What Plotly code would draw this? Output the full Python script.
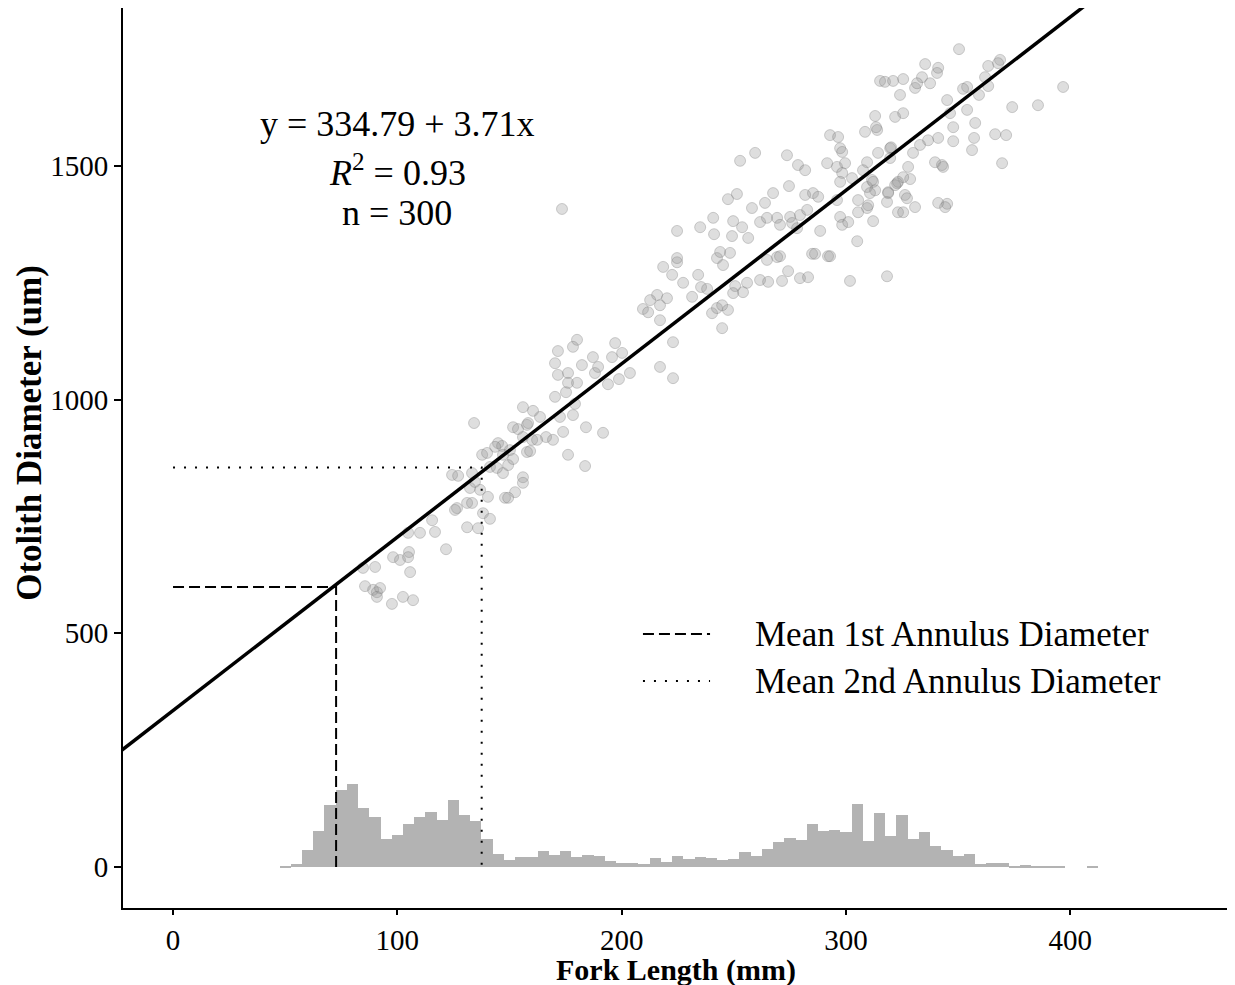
import plotly.graph_objects as go

# ---------------- data ----------------
fork_length = [
 134.2,151.6,153.8,157.8,144.9,146.7,143.6,137.8,140.0,150.2,157.8,141.3,144.4,147.1,149.4,151.6,
 124.4,127.1,156.0,156.0,152.5,148.0,149.4,132.4,136.9,140.4,126.6,131.1,133.3,125.7,138.2,141.3,
 115.5,116.8,110.1,104.8,131.1,136.0,121.7,98.1,101.2,105.2,104.8,90.1,84.7,105.7,85.6,89.2,
 90.9,92.3,90.9,97.6,102.5,107.0,133.3,134.6,147.1,
 180.1,178.3,197.1,171.6,170.3,182.3,187.2,195.7,200.2,171.6,176.1,188.1,189.5,203.7,198.8,193.9,
 175.2,176.1,180.1,170.3,179.2,178.3,172.5,156.0,160.5,163.6,158.3,166.3,169.4,173.9,184.1,191.7,
 156.0,160.1,162.3,176.1,183.7,159.2,
 218.5,224.7,222.5,227.4,234.1,231.4,215.8,212.7,220.2,217.1,209.5,211.8,217.1,222.9,217.1,222.9,
 292.9,296.5,297.4,298.3,308.5,313.9,252.8,259.5,273.7,278.6,281.8,291.6,296.0,299.6,298.3,302.7,
 309.4,314.3,319.7,307.6,297.4,311.6,309.4,313.0,318.8,322.8,323.2,247.4,251.4,267.5,274.6,281.8,
 285.3,287.6,296.0,305.4,309.4,309.9,305.4,297.4,298.3,301.0,312.1,318.3,305.0,240.8,235.0,224.7,
 249.7,253.7,241.2,249.2,256.4,258.1,263.9,261.7,264.8,275.1,276.0,279.5,282.7,278.2,288.5,269.3,
 270.6,224.7,235.4,238.1,242.5,243.9,248.3,245.2,250.6,254.1,255.9,249.7,261.7,265.3,271.5,274.2,
 279.5,283.1,284.9,286.2,292.0,264.8,269.3,270.6,301.8,318.3,240.3,242.5,244.8,247.4,244.8,173.4,
 350.4,368.7,363.4,367.8,335.3,341.1,340.6,333.9,330.8,331.7,337.5,315.2,317.4,321.0,325.5,324.1,
 354.0,352.2,363.4,359.3,362.0,396.8,385.6,374.1,345.1,354.0,346.4,313.0,313.4,321.9,325.5,357.6,
 347.8,347.8,357.1,356.2,366.5,371.4,369.6,341.1,336.6,333.0,329.9,320.1,319.7,339.7,342.8,343.3,
 327.7,328.6,325.5,323.2,321.9,312.1,310.7,326.3,327.2,330.8,325.5,341.1,345.1,344.2,318.8,292.9,
]
otolith_diameter = [
 950,941,937,946,907,901,899,882,886,892,888,856,854,843,860,873,
 839,837,834,822,802,790,790,811,807,792,768,779,779,764,757,745,
 742,717,715,715,727,725,680,663,657,674,663,642,640,631,601,593,
 588,597,578,563,578,571,843,824,882,
 1128,1113,1121,1104,1078,1074,1091,1091,1100,1053,1057,1057,1070,1057,1044,1033,
 1016,1036,1036,1006,991,967,963,984,976,963,950,920,914,931,941,929,
 920,914,914,882,858,890,
 1284,1294,1267,1250,1267,1220,1224,1213,1217,1202,1194,1187,1170,1123,1070,1046,
 1566,1562,1538,1530,1573,1577,1511,1528,1523,1502,1491,1506,1498,1506,1485,1474,
 1508,1528,1538,1491,1466,1470,1455,1448,1444,1463,1401,1429,1440,1442,1457,1438,
 1442,1434,1427,1427,1410,1416,1401,1391,1374,1380,1382,1423,1339,1389,1369,1361,
 1382,1369,1354,1350,1346,1410,1421,1380,1389,1391,1378,1395,1406,1367,1361,1389,
 1374,1303,1241,1237,1303,1316,1314,1288,1243,1230,1250,1228,1256,1252,1254,1275,
 1260,1262,1312,1312,1307,1299,1305,1307,1254,1264,1185,1196,1202,1192,1153,1408,
 1750,1727,1714,1720,1718,1710,1699,1690,1667,1677,1677,1682,1680,1682,1686,1652,
 1669,1665,1671,1652,1690,1669,1630,1626,1641,1620,1613,1607,1583,1605,1613,1592,
 1583,1553,1560,1534,1568,1566,1506,1560,1555,1545,1528,1540,1517,1508,1502,1498,
 1498,1472,1476,1466,1459,1466,1442,1438,1431,1412,1401,1421,1419,1412,1442,1307,
]

hist_bin_centers = [50, 55, 60, 65, 70, 75, 80, 85, 90, 95, 100, 105, 110, 115, 120, 125,
                    130, 135, 140, 145, 150, 155, 160, 165, 170, 175, 180, 185, 190, 195,
                    200, 205, 210, 215, 220, 225, 230, 235, 240, 245, 250, 255, 260, 265,
                    270, 275, 280, 285, 290, 295, 300, 305, 310, 315, 320, 325, 330, 335,
                    340, 345, 350, 355, 360, 365, 370, 375, 380, 385, 390, 395, 400, 405, 410]
hist_heights = [1.5, 7, 36, 76, 133, 165, 178, 126, 108, 61, 68, 92, 106, 117, 101, 143,
                111, 98, 59, 27, 14, 22, 21, 34, 26, 34, 21, 25, 23, 12,
                9, 8, 6, 19, 11, 23, 18, 21, 20, 16, 17, 33, 24, 39,
                53, 63, 57, 91, 78, 80, 75, 135, 56, 116, 67, 111, 61, 75,
                44, 37, 23, 27, 6, 9, 9, 1.5, 4, 1.5, 1.5, 1, 0, 0, 1]
hist_bin_width = 5

fit_intercept = 334.79
fit_slope = 3.71
fit_r2 = 0.93
n_fish = 300

annulus1_diameter = 599
annulus1_length = 72.7
annulus2_diameter = 855
annulus2_length = 137.6

x_ticks = [0, 100, 200, 300, 400]
y_ticks = [0, 500, 1000, 1500]
x_range = [-22.3, 471.2]
y_range = [-87.7, 1838]

FONT = "Liberation Serif, Times New Roman, serif"

fig = go.Figure()

fig.add_trace(go.Bar(x=hist_bin_centers, y=hist_heights, width=hist_bin_width,
                     marker=dict(color="#b3b3b3", line=dict(width=0)),
                     showlegend=False, hoverinfo="skip"))

fig.add_trace(go.Scatter(x=fork_length, y=otolith_diameter, mode="markers",
                         marker=dict(size=11, color="rgba(145,145,145,0.3)",
                                     line=dict(width=1, color="rgba(105,105,105,0.3)")),
                         showlegend=False))

line_x = [x_range[0] - 10, x_range[1] + 10]
fig.add_trace(go.Scatter(x=line_x, y=[fit_intercept + fit_slope * v for v in line_x],
                         mode="lines", line=dict(color="black", width=3.5),
                         showlegend=False))

# annulus guide lines
fig.add_trace(go.Scatter(x=[0, annulus1_length, annulus1_length],
                         y=[annulus1_diameter, annulus1_diameter, 0],
                         mode="lines", line=dict(color="black", width=2, dash="11px,5px"),
                         showlegend=False))
fig.add_trace(go.Scatter(x=[0, annulus2_length, annulus2_length],
                         y=[annulus2_diameter, annulus2_diameter, 0],
                         mode="lines", line=dict(color="black", width=2, dash="2px,9px"),
                         showlegend=False))

# manual legend
legend_items = [("Mean 1st Annulus Diameter", "11px,5px", 0.3044),
                ("Mean 2nd Annulus Diameter", "2px,9px", 0.2522)]
for label, dash, yy in legend_items:
    fig.add_shape(type="line", xref="paper", yref="paper", x0=0.4697, x1=0.5303,
                  y0=yy, y1=yy, line=dict(color="black", width=2, dash=dash))
    fig.add_annotation(xref="paper", yref="paper", x=0.569, y=yy, text=label,
                       showarrow=False, xanchor="left", yanchor="middle",
                       font=dict(family=FONT, size=35, color="black"))

eq_lines = [f"y = {fit_intercept} + {fit_slope}x",
            f"<i>R</i><sup>2</sup> = {fit_r2}",
            f"n = {n_fish}"]
eq_y = [1590, 1491, 1399]
for t, yy in zip(eq_lines, eq_y):
    fig.add_annotation(x=100, y=yy, text=t, showarrow=False, xanchor="center",
                       yanchor="middle", font=dict(family=FONT, size=36, color="black"))

# axis titles as annotations
fig.add_annotation(xref="paper", yref="paper", x=0, y=0.528, xshift=-93,
                   text="<b>Otolith Diameter (um)</b>", textangle=-90, showarrow=False,
                   xanchor="center", yanchor="middle",
                   font=dict(family=FONT, size=35, color="black"))
fig.add_annotation(xref="paper", yref="paper", x=0.4995, y=0, yshift=-62,
                   text="<b>Fork Length (mm)</b>", showarrow=False,
                   xanchor="center", yanchor="middle",
                   font=dict(family=FONT, size=30, color="black"))

# the page body adds an 8px offset, so the figure is 8px smaller and shifted
fig.update_layout(
    width=1227, height=977,
    margin=dict(l=115, r=5, t=0, b=77),
    plot_bgcolor="white", paper_bgcolor="white",
    bargap=0,
    font=dict(family=FONT, color="black"),
    showlegend=False,
)
fig.update_xaxes(range=x_range, tickvals=x_ticks, showgrid=False, zeroline=False,
                 automargin=False,
                 showline=True, linecolor="black", linewidth=2,
                 ticks="outside", ticklen=5, tickwidth=2, tickcolor="black",
                 tickfont=dict(family=FONT, size=29, color="black"))
fig.update_yaxes(range=y_range, tickvals=y_ticks, showgrid=False, zeroline=False,
                 automargin=False,
                 showline=True, linecolor="black", linewidth=2,
                 ticks="outside", ticklen=7, tickwidth=2, tickcolor="black",
                 tickfont=dict(family=FONT, size=29, color="black"))

fig.write_html("out.html")
